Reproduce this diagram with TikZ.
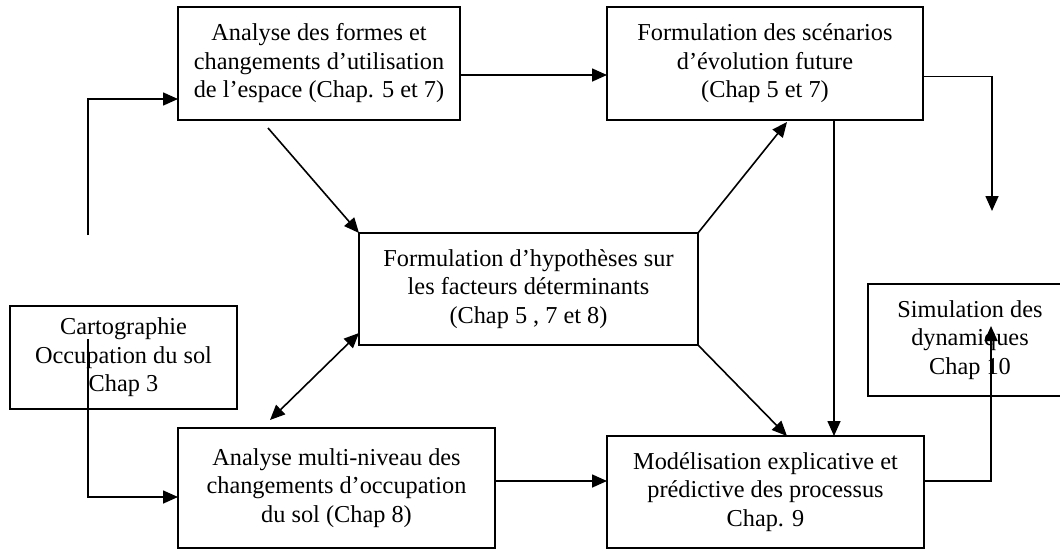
\documentclass[tikz,border=0pt]{standalone}
\usepackage{fontspec}
\setmainfont{Liberation Serif}
\usetikzlibrary{arrows.meta}
\begin{document}
\begin{tikzpicture}[x=1pt,y=-1pt,
  box/.style={draw, line width=1.7pt, rectangle, align=center, inner sep=0pt, outer sep=0pt,
    font=\fontsize{24.3}{28.5}\selectfont},
  arr/.style={line width=1.6pt, -{Triangle[length=15pt,width=13pt]}},
  dbl/.style={line width=1.6pt, {Triangle[length=15pt,width=13pt]}-{Triangle[length=15pt,width=13pt]}}]
\useasboundingbox (0,0) rectangle (1060,555);

% process boxes
\node[box, minimum width=282pt, minimum height=113pt] (A) at (319,63.5)
  {Analyse des formes et\\changements d’utilisation\\de l’espace (Chap. 5 et 7)};
\node[box, minimum width=316pt, minimum height=113pt] (B) at (765,63.5)
  {Formulation des scénarios\\d’évolution future\\(Chap 5 et 7)};
\node[box, minimum width=339pt, minimum height=112pt] (H) at (528.5,289)
  {Formulation d’hypothèses sur\\les facteurs déterminants\\(Chap 5 , 7 et 8)};
\node[box, minimum width=227pt, minimum height=103pt] (K) at (123.5,357.5)
  {Cartographie\\Occupation du sol\\Chap 3};
\node[box, minimum width=317pt, minimum height=120pt] (M) at (336.5,488)
  {Analyse multi-niveau des\\changements d’occupation\\du sol (Chap 8)};
\node[box, minimum width=317pt, minimum height=112pt] (Mod) at (765.5,492)
  {Modélisation explicative et\\prédictive des processus\\Chap. 9};
\node[box, minimum width=204pt, minimum height=112pt] (S) at (970,340)
  {Simulation des\\dynamiques\\Chap 10};

% loose connector ends
\coordinate (s1) at (88,235);
\coordinate (e1) at (992,211);
\coordinate (d1) at (270,420);
\coordinate (e2) at (991,326);

% connectors
\draw[arr] (s1) |- ([yshift=-35.5pt]A.west);
\draw[arr] ([yshift=-11.5pt]A.east) -- ([yshift=-11.5pt]A.east -| B.west);
\draw[arr] ([yshift=-13pt]B.east) -| (e1);
\draw[arr] ([shift={(-51pt,-8pt)}]A.south) -- (H.north west);
\draw[dbl] ([yshift=12pt]H.south west) -- (d1);
\draw[arr] (H.north east) -- ([shift={(22pt,-2pt)}]B.south);
\draw[arr] (H.south east) -- ([xshift=21.5pt]Mod.north);
\draw[arr] ([xshift=69pt]B.south) -- ([xshift=69pt]B.south |- Mod.north);
\draw[arr] ([shift={(-35.5pt,18.5pt)}]K.center) |- ([yshift=-9pt]M.west);
\draw[arr] ([yshift=7pt]M.east) -- ([yshift=7pt]M.east -| Mod.west);
\draw[arr] ([yshift=11pt]Mod.east) -| (e2);
\end{tikzpicture}
\end{document}
